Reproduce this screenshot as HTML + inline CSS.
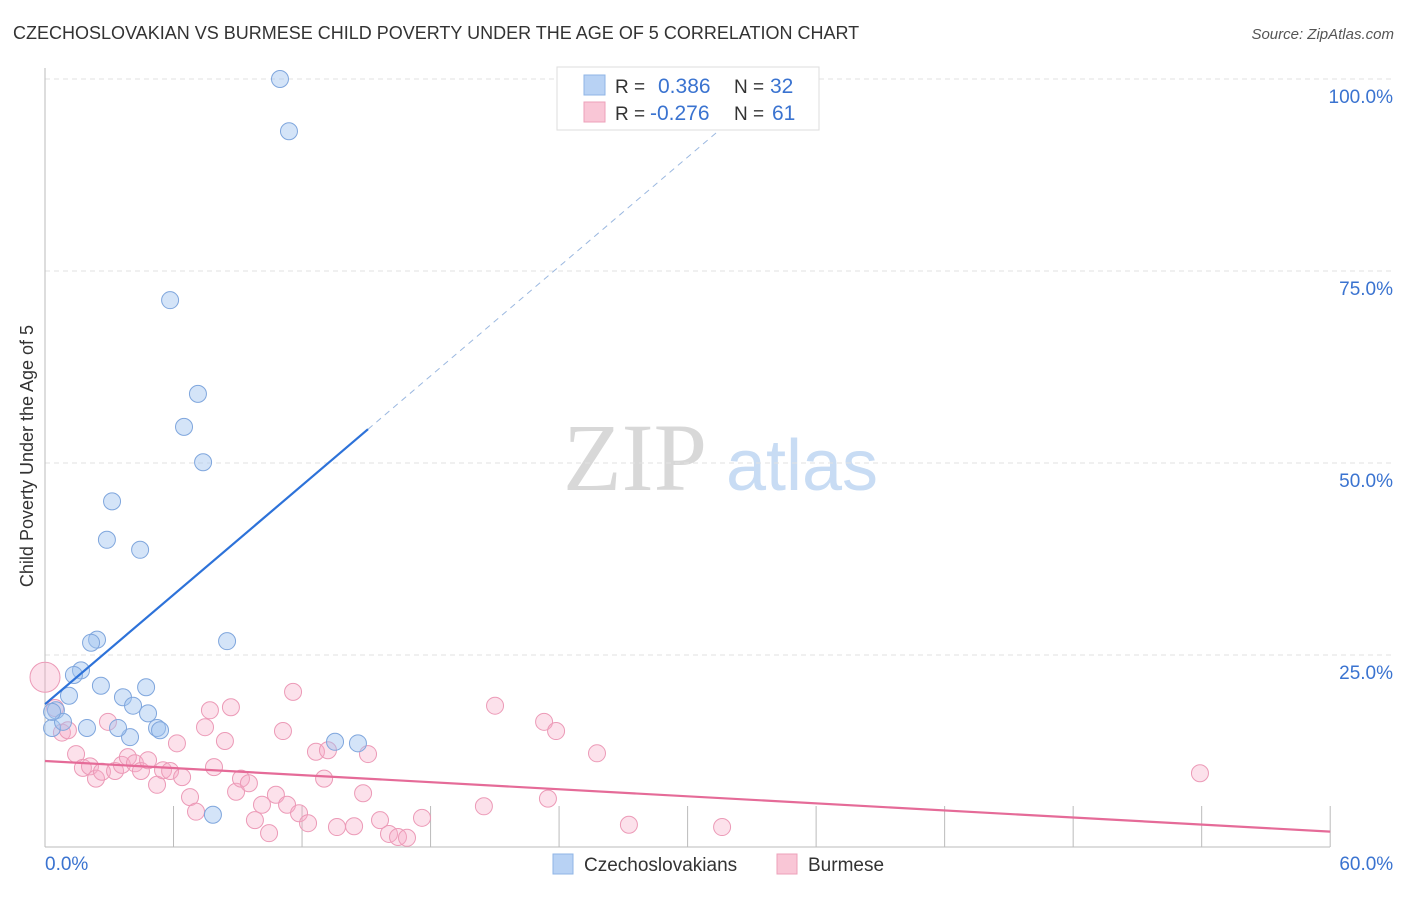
<!DOCTYPE html>
<html><head><meta charset="utf-8">
<style>
body{margin:0;background:#fff;font-family:"Liberation Sans",sans-serif;}
svg text{font-family:"Liberation Sans",sans-serif;}
</style></head>
<body>
<svg id="chart" width="1406" height="892" xmlns="http://www.w3.org/2000/svg">
<text x="13" y="39" font-size="18" fill="#333">CZECHOSLOVAKIAN VS BURMESE CHILD POVERTY UNDER THE AGE OF 5 CORRELATION CHART</text>
<text x="1394" y="39" font-size="15" fill="#555" text-anchor="end" font-style="italic">Source: ZipAtlas.com</text>
<text transform="translate(33,456) rotate(-90)" font-size="18" fill="#333" text-anchor="middle">Child Poverty Under the Age of 5</text>
<g>
<text x="635" y="490" font-size="96" fill="#d8d8d8" style="font-family:'Liberation Serif',serif" text-anchor="middle">ZIP</text>
<text x="802" y="490" font-size="72" fill="#c8dcf4" text-anchor="middle">atlas</text>
</g>
<g id="grid"></g><g id="axes"></g><g id="marks"></g>
<g>
<rect x="557" y="67" width="262" height="63" fill="#fff" stroke="#ddd"/>
<rect x="584" y="75" width="21" height="20" fill="#b8d2f4" stroke="#8fb4e6"/>
<rect x="584" y="102" width="21" height="20" fill="#f9c6d6" stroke="#eda0ba"/>
<text x="615" y="93" font-size="19" fill="#333">R = </text><text x="658" y="93" font-size="21" fill="#3a73d0">0.386</text>
<text x="734" y="93" font-size="19" fill="#333">N = </text><text x="770" y="93" font-size="21" fill="#3a73d0">32</text>
<text x="615" y="120" font-size="19" fill="#333">R = </text><text x="650" y="120" font-size="21" fill="#3a73d0">-0.276</text>
<text x="734" y="120" font-size="19" fill="#333">N = </text><text x="772" y="120" font-size="21" fill="#3a73d0">61</text>
</g>
<g>
<rect x="553" y="854" width="20" height="20" fill="#b8d2f4" stroke="#8fb4e6"/>
<text x="584" y="871" font-size="19" fill="#333">Czechoslovakians</text>
<rect x="777" y="854" width="20" height="20" fill="#f9c6d6" stroke="#eda0ba"/>
<text x="808" y="871" font-size="19" fill="#333">Burmese</text>
</g>
</svg>
<script>
const xTickVals=[0,6,12,18,24,30,36,42,48,54,60];
const yTickVals=[25,50,75,100];
const yTickLabels=["25.0%","50.0%","75.0%","100.0%"];
const xEndLabels=["0.0%","60.0%"];
const czechX=[10.97,11.39,5.84,7.14,6.49,7.38,3.13,2.89,4.44,2.43,2.15,8.50,1.68,1.35,1.12,2.61,4.72,3.64,4.11,4.81,0.51,0.33,0.84,1.96,5.23,5.37,3.97,3.41,13.54,14.61,7.84,0.33];
const czechY=[100,93.2,71.2,59.0,54.7,50.1,45.0,40.0,38.7,27.0,26.6,26.8,23.0,22.4,19.7,21.0,20.8,19.5,18.4,17.4,17.8,15.5,16.3,15.5,15.5,15.2,14.3,15.5,13.7,13.5,4.2,17.6];
const burX=[0,.47,.79,1.07,1.45,1.77,2.10,2.38,2.66,2.94,3.27,3.59,3.87,4.20,4.48,4.81,5.23,5.51,5.84,6.16,6.40,6.77,7.05,7.47,7.70,7.89,8.40,8.68,8.92,9.15,9.52,9.80,10.13,10.46,10.78,11.11,11.30,11.58,11.86,12.28,12.65,13.03,13.21,13.63,14.43,14.85,15.08,15.64,16.06,16.48,16.90,17.60,20.49,21.01,23.30,23.48,23.86,25.77,27.26,31.61,53.92];
const burY=[22.1,18.1,14.9,15.2,12.1,10.3,10.5,8.9,9.8,16.3,9.9,10.7,11.7,10.9,9.9,11.3,8.1,10.0,9.9,13.5,9.1,6.5,4.6,15.6,17.8,10.4,13.8,18.2,7.2,8.9,8.3,3.5,5.5,1.8,6.8,15.1,5.5,20.2,4.4,3.1,12.4,8.9,12.6,2.6,2.7,7.0,12.1,3.5,1.7,1.3,1.2,3.8,5.3,18.4,16.3,6.3,15.1,12.2,2.9,2.6,9.6];
const czechLine=[18.6,54.4,15.08];
const burLine=[11.2,2.0];

const NS="http://www.w3.org/2000/svg";
const X=v=>45+v*21.42, Y=v=>847-v*7.68;
function mk(tag,parent,attrs){const e=document.createElementNS(NS,tag);for(const k in attrs)e.setAttribute(k,attrs[k]);parent.appendChild(e);return e;}
const grid=document.getElementById('grid'),axes=document.getElementById('axes'),marks=document.getElementById('marks');
yTickVals.forEach((v,i)=>{
 const l=mk('line',grid,{x1:45,x2:1394,y1:Y(v),y2:Y(v),stroke:'#e2e2e2','stroke-dasharray':'5,4'});
 
 
 const t=mk('text',axes,{x:1393,y:Y(v)+24,'font-size':19,fill:'#3a73d0','text-anchor':'end'});t.textContent=yTickLabels[i];
 
 
});
const ax=mk('line',axes,{x1:45,x2:1330,y1:847,y2:847,stroke:'#bbb'});


const ay=mk('line',axes,{x1:45,x2:45,y1:68,y2:847,stroke:'#bbb'});


xTickVals.forEach(v=>{const t=mk('line',axes,{x1:X(v),x2:X(v),y1:806,y2:847,stroke:'#bbb'});
 
 });
[[0,'start'],[60,'end']].forEach((p,i)=>{const t=mk('text',axes,{x:X(p[0])+(i?63:0),y:870,'font-size':19,fill:'#3a73d0','text-anchor':p[1]});t.textContent=xEndLabels[i];
 
 });
burX.forEach((x,i)=>{const c=mk('circle',marks,{cx:X(x),cy:Y(burY[i]),r:i===0?15:8.5,fill:'rgba(246,170,198,0.35)',stroke:'#ec9ab7','stroke-width':1});
 
 });
czechX.forEach((x,i)=>{const c=mk('circle',marks,{cx:X(x),cy:Y(czechY[i]),r:8.5,fill:'rgba(160,195,240,0.45)',stroke:'#7fa6dd','stroke-width':1});
 
 });
const slope=(czechLine[1]-czechLine[0])/czechLine[2];
const xEnd=(100-czechLine[0])/slope;
const d=mk('line',marks,{x1:X(czechLine[2]),y1:Y(czechLine[1]),x2:X(xEnd),y2:Y(100),stroke:'#9bb8e0','stroke-dasharray':'6,5','stroke-width':1});


const bl=mk('line',marks,{x1:X(0),y1:Y(czechLine[0]),x2:X(czechLine[2]),y2:Y(czechLine[1]),stroke:'#2d72d9','stroke-width':2.2});


const pl=mk('line',marks,{x1:X(0),y1:Y(burLine[0]),x2:X(60),y2:Y(burLine[1]),stroke:'#e56b98','stroke-width':2.2});


</script>
</body></html>
